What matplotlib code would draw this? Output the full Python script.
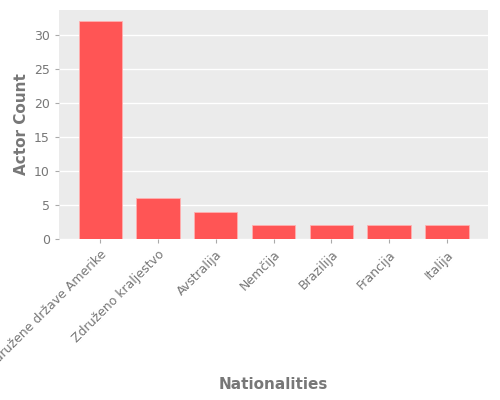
import matplotlib
matplotlib.use("Agg")
import matplotlib.pyplot as plt

categories = ["Združene države Amerike", "Združeno kraljestvo", "Avstralija",
              "Nemčija", "Brazilija", "Francija", "Italija"]
counts = [32, 6, 4, 2, 2, 2, 2]

plt.rcParams['font.family'] = ['DejaVu Sans']
fig = plt.figure(figsize=(5, 4), dpi=100)
ax = fig.add_axes([0.118, 0.4025, 0.858, 0.5725])
ax.set_facecolor('#EBEBEB')
ax.bar(range(len(categories)), counts, width=0.75, color='#FF5555',
       edgecolor='#FFB0B0', linewidth=0.6, zorder=2)
ax.set_ylim(0, 33.6)
ax.set_xticks(range(len(categories)))
ax.set_xticklabels(categories, rotation=45, ha='right', rotation_mode='anchor')
ax.set_yticks([0, 5, 10, 15, 20, 25, 30])
ax.grid(axis='y', color='white', linewidth=1, zorder=0)
ax.grid(axis='x', visible=False)
ax.set_axisbelow(True)
for s in ax.spines.values():
    s.set_visible(False)
ax.tick_params(colors='#AAAAAA', labelcolor='#777777', labelsize=9, length=3)
ax.set_ylabel('Actor Count', fontsize=11, fontweight='bold', color='#777777')
ax.set_xlabel('Nationalities', fontsize=11, fontweight='bold', color='#777777')
fig.savefig('out.png')
